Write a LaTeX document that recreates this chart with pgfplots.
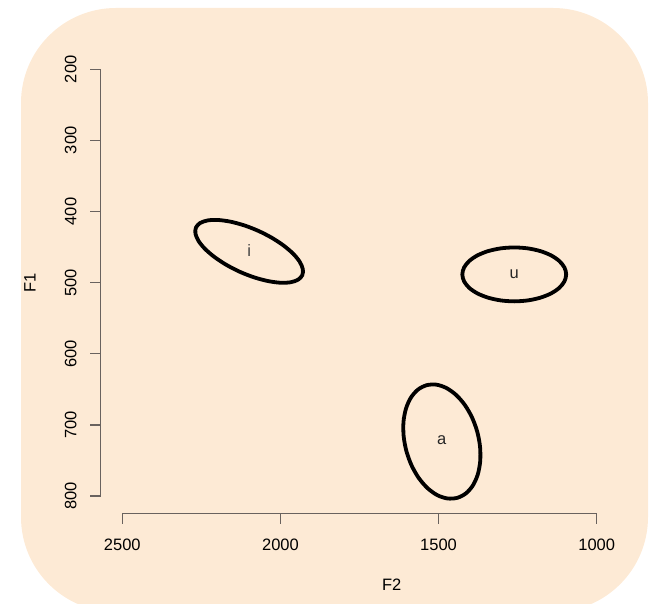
\documentclass[border=0pt]{standalone}
\usepackage{pgfplots}
\pgfplotsset{compat=1.18}
\usepackage{fontspec}
\setmainfont{Liberation Sans}
\definecolor{bg}{RGB}{253,234,213}
\definecolor{axc}{RGB}{105,98,94}
\newcommand\fs{\fontsize{16.5}{19}\selectfont}
\begin{document}
\begin{tikzpicture}[x=1pt,y=1pt,every node/.append style={font=\fs}]
\path[use as bounding box] (0,0) rectangle (653,604);
\begin{scope}
\clip (0,0) rectangle (653,604);
\fill[bg, rounded corners=95pt] (21,-8) rectangle (648,596);
\end{scope}
\begin{axis}[at={(100.8pt,90.9pt)}, anchor=south west, scale only axis,
  width=543.35pt, height=460.9pt,
  xmin=850, xmax=2568, ymin=176, ymax=824,
  x dir=reverse, y dir=reverse, hide axis, clip=false]
\addplot[black, line width=3.8pt, smooth cycle] coordinates {
(1931,489.6) (1944.3,495.9) (1968.1,499.5) (2000.8,500.1) (2040.2,497.7) (2083.6,492.5)
(2128.1,484.8) (2170.6,475.1) (2208.2,464.1) (2238.4,452.6) (2259.1,441.3) (2268.8,431.0)
(2267,422.4) (2253.7,416.1) (2229.9,412.5) (2197.2,411.9) (2157.8,414.3) (2114.4,419.5)
(2069.9,427.2) (2027.4,436.9) (1989.8,447.9) (1959.6,459.4) (1938.9,470.7) (1929.2,481.0)};
\addplot[black, line width=3.8pt, smooth cycle] coordinates {
(1424.9,488.4) (1419.3,498.2) (1402.9,507.4) (1376.8,515.2) (1342.8,521.2) (1303.2,525.0)
(1260.7,526.3) (1218.2,525.0) (1178.6,521.2) (1144.6,515.2) (1118.5,507.4) (1102.1,498.2)
(1096.5,488.4) (1102.1,478.6) (1118.5,469.5) (1144.6,461.6) (1178.6,455.6) (1218.2,451.8)
(1260.7,450.5) (1303.2,451.8) (1342.8,455.6) (1376.8,461.6) (1402.9,469.5) (1419.3,478.6)};
\addplot[black, line width=3.8pt, smooth cycle] coordinates {
(1441.3,802.6) (1413.9,796.4) (1391.8,785.3) (1376.2,769.9) (1368.4,751.3) (1368.8,730.9)
(1377.5,709.9) (1393.8,689.9) (1416.7,672.1) (1444.5,657.9) (1475.4,648.1) (1507.2,643.4)
(1537.9,644.2) (1565.3,650.4) (1587.5,661.6) (1603.0,677.0) (1610.9,695.5) (1610.4,715.9)
(1601.7,736.9) (1585.4,756.9) (1562.6,774.7) (1534.7,789.0) (1503.9,798.8) (1472.0,803.4)};
\node[text=black!75] at (axis cs:2099,455) {i};
\node[text=black!85] at (axis cs:1261,488) {u};
\node[text=black!85] at (axis cs:1490,722) {a};
% x axis
\draw[axc, line width=1.2pt] (axis cs:2500,824) -- (axis cs:1000,824);
\pgfplotsinvokeforeach{1000,1500,2000,2500}{
  \draw[axc, line width=1.2pt] (axis cs:#1,824) -- ++(0pt,-11pt);
  \node at ([yshift=-31.7pt]axis cs:#1,824) {#1};
}
% y axis
\draw[axc, line width=1.2pt] (axis cs:2568,200) -- (axis cs:2568,800);
\pgfplotsinvokeforeach{200,300,400,500,600,700,800}{
  \draw[axc, line width=1.2pt] (axis cs:2568,#1) -- ++(-11pt,0pt);
  \node[rotate=90] at ([xshift=-30.2pt]axis cs:2568,#1) {#1};
}
\end{axis}
\node at (391.7,19) {F2};
\node[rotate=90] at (30,321.3) {F1};
\end{tikzpicture}
\end{document}
